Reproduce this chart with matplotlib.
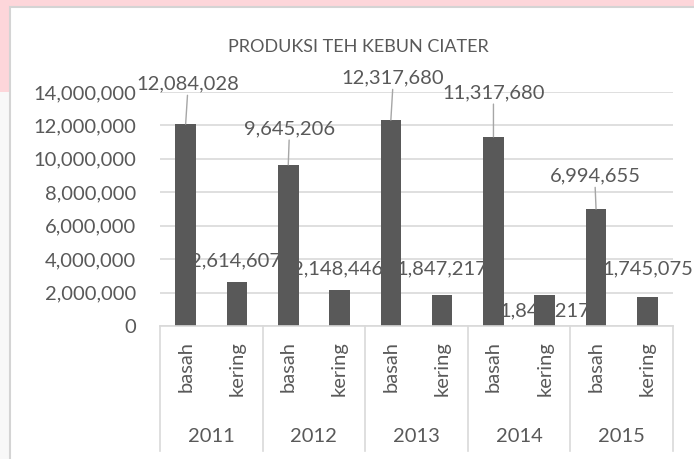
import numpy as np
import matplotlib.pyplot as plt
from matplotlib.patches import Rectangle
from matplotlib.ticker import FuncFormatter

plt.rcParams['font.family'] = ['Lato', 'DejaVu Sans']

years = ['2011', '2012', '2013', '2014', '2015']
kinds = ['basah', 'kering']
basah = [12084028, 9645206, 12317680, 11317680, 6994655]
kering = [2614607, 2148446, 1847217, 1847217, 1745075]

# interleave: basah, kering for each year
values = []
labels = []
for b, k in zip(basah, kering):
    values += [b, k]
    labels += kinds

# label offsets from the bar top, in pixels (Excel placed them by hand)
offsets = [(2, 40), (-1, 21), (1, 36), (-2, 21), (2, 42),
           (0, 26), (0, 44), (0, -16), (-1, 33), (0, 28)]
leader = [True, False, True, False, True, False, True, False, True, False]

grey = '#595959'
W, H = 694, 459
fig = plt.figure(figsize=(W / 100, H / 100), dpi=100)
fig.patch.set_facecolor('white')

# page background and chart area
fig.add_artist(Rectangle((0, 1 - 7 / H), 1, 7 / H, transform=fig.transFigure,
                         facecolor='#fdd6da', edgecolor='none', zorder=0))
fig.add_artist(Rectangle((0, 1 - 92 / H), 10 / W, 92 / H, transform=fig.transFigure,
                         facecolor='#fdd6da', edgecolor='none', zorder=0))
fig.add_artist(Rectangle((0, 0), 10 / W, 1 - 92 / H, transform=fig.transFigure,
                         facecolor='#f8f8f8', edgecolor='none', zorder=0))
fig.add_artist(Rectangle((10 / W, -0.05), 1.0, 1 - 7 / H + 0.05, transform=fig.transFigure,
                         facecolor='white', edgecolor='#d4d4d4', lw=1.5, zorder=0))

ax = fig.add_axes([160 / W, (H - 326) / H, 513 / W, 234 / H])
ax.set_facecolor('none')

x = np.arange(len(values))
ax.bar(x, values, width=0.4, color=grey, zorder=2)

ax.set_xlim(-0.5, len(values) - 0.5)
ax.set_ylim(0, 14000000)
ax.set_yticks(np.arange(0, 14000001, 2000000))
ax.yaxis.set_major_formatter(FuncFormatter(lambda v, p: f'{int(v):,}'))
ax.tick_params(axis='y', length=0, pad=17, labelsize=14.5, labelcolor=grey)
ax.yaxis.grid(True, color='#d9d9d9', lw=1.2)
ax.set_axisbelow(True)

ax.set_xticks(x)
ax.set_xticklabels(labels, rotation=90, va='top')
ax.tick_params(axis='x', length=0, pad=11, labelsize=14.5, labelcolor=grey)

for s in ['top', 'right', 'left']:
    ax.spines[s].set_visible(False)
ax.spines['bottom'].set_color('#d9d9d9')
ax.spines['bottom'].set_linewidth(1.2)

# multi-level category axis: separators and year labels
xt = ax.get_xaxis_transform()
for i in range(len(years) + 1):
    b = 2 * i - 0.5
    ax.plot([b, b], [0, -125 / 234], transform=xt, color='#d9d9d9', lw=1.2,
            clip_on=False)
for i, yr in enumerate(years):
    ax.text(2 * i + 0.5, -111 / 234, yr, transform=xt, ha='center', va='center',
            fontsize=14.5, color=grey)

# data labels
for xi, v, (dx, dy), ld in zip(x, values, offsets, leader):
    props = None
    if ld:
        props = dict(arrowstyle='-', color='#a6a6a6', lw=1, shrinkA=0, shrinkB=0,
                     relpos=(0.5, 0))
    ax.annotate(f'{v:,}', xy=(xi, v), xytext=(dx, dy), textcoords='offset pixels',
                ha='center', va='center', fontsize=14.5, color=grey,
                arrowprops=props, annotation_clip=False, zorder=4)

fig.text(358 / W, 1 - 47 / H, 'PRODUKSI TEH KEBUN CIATER', ha='center', va='center',
         fontsize=13, color=grey)

fig.savefig('out.png', dpi=100)
